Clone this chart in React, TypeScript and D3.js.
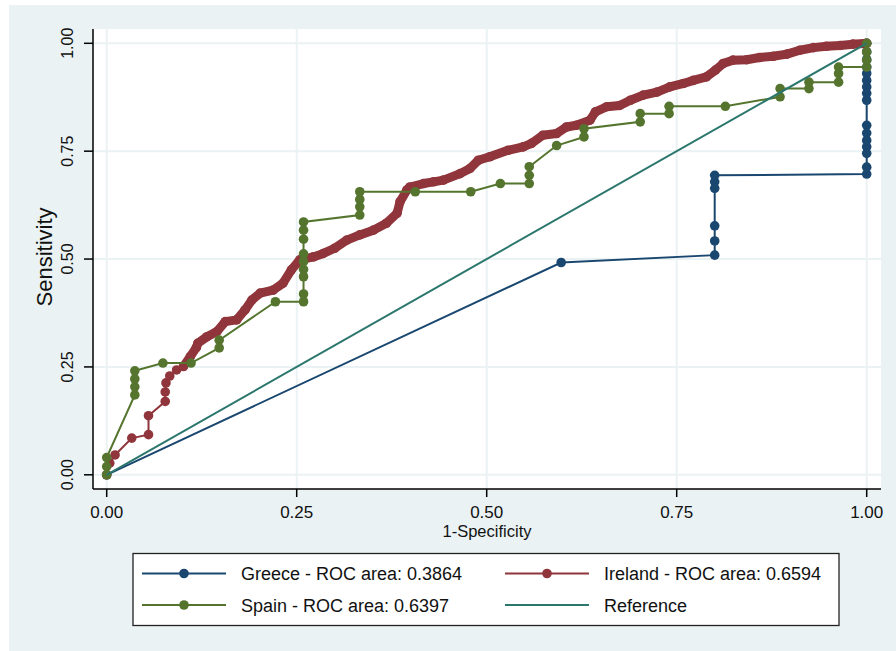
import React from 'react'
import { scaleLinear, line } from 'd3'

// ROC points: [1-specificity, sensitivity]
const greece: [number, number][] = [
  [0, 0], [0.598, 0.492], [0.8, 0.509], [0.8, 0.542], [0.8, 0.577],
  [0.8, 0.664], [0.8, 0.679], [0.8, 0.694], [1, 0.697], [1, 0.713],
  [1, 0.745], [1, 0.76], [1, 0.775], [1, 0.792], [1, 0.81], [1, 0.868],
  [1, 0.884], [1, 0.899], [1, 0.914], [1, 0.93], [1, 0.945], [1, 0.962],
  [1, 0.98], [1, 1],
]

const ireland: [number, number][] = [
  [0, 0], [0.004, 0.027], [0.011, 0.046], [0.033, 0.085], [0.055, 0.093],
  [0.055, 0.137], [0.077, 0.17], [0.077, 0.192], [0.078, 0.213], [0.083, 0.229],
  [0.092, 0.243], [0.101, 0.251], [0.11, 0.274], [0.118, 0.295], [0.12, 0.305],
  [0.132, 0.32], [0.145, 0.332], [0.156, 0.355], [0.171, 0.359], [0.182, 0.382],
  [0.191, 0.405], [0.202, 0.421], [0.219, 0.428], [0.232, 0.444], [0.243, 0.475],
  [0.254, 0.498], [0.272, 0.505], [0.285, 0.513], [0.3, 0.525], [0.316, 0.544],
  [0.333, 0.556], [0.351, 0.567], [0.368, 0.583], [0.382, 0.606], [0.386, 0.633],
  [0.395, 0.66], [0.399, 0.667], [0.417, 0.675], [0.43, 0.679], [0.443, 0.683],
  [0.465, 0.698], [0.478, 0.71], [0.489, 0.729], [0.504, 0.737], [0.528, 0.752],
  [0.548, 0.76], [0.559, 0.768], [0.574, 0.787], [0.592, 0.791], [0.605, 0.806],
  [0.618, 0.81], [0.636, 0.822], [0.643, 0.841], [0.658, 0.853], [0.675, 0.856],
  [0.689, 0.868], [0.706, 0.88], [0.724, 0.887], [0.741, 0.899], [0.759, 0.907],
  [0.772, 0.914], [0.789, 0.922], [0.801, 0.938], [0.811, 0.953], [0.824, 0.961],
  [0.842, 0.962], [0.859, 0.967], [0.877, 0.97], [0.895, 0.975], [0.912, 0.984],
  [0.93, 0.99], [0.947, 0.993], [0.965, 0.995], [0.982, 0.998], [1, 1],
]

const spain: [number, number][] = [
  [0, 0], [0, 0.019], [0, 0.04], [0.037, 0.185], [0.037, 0.204], [0.037, 0.222],
  [0.037, 0.241], [0.074, 0.259], [0.111, 0.259], [0.148, 0.294], [0.148, 0.312],
  [0.222, 0.401], [0.259, 0.401], [0.259, 0.419], [0.259, 0.459], [0.259, 0.476],
  [0.259, 0.494], [0.259, 0.512], [0.259, 0.546], [0.259, 0.567], [0.259, 0.586],
  [0.333, 0.602], [0.333, 0.621], [0.333, 0.638], [0.333, 0.656], [0.406, 0.656],
  [0.479, 0.656], [0.518, 0.675], [0.556, 0.675], [0.556, 0.694], [0.556, 0.714],
  [0.592, 0.763], [0.628, 0.783], [0.628, 0.802], [0.702, 0.818], [0.702, 0.837],
  [0.74, 0.837], [0.74, 0.854], [0.814, 0.854], [0.886, 0.876], [0.886, 0.895],
  [0.924, 0.895], [0.924, 0.91], [0.963, 0.91], [0.963, 0.93], [0.963, 0.945],
  [1, 0.945], [1, 0.961], [1, 0.98], [1, 1],
]

const reference: [number, number][] = [[0, 0], [1, 1]]

const xTicks = [0, 0.25, 0.5, 0.75, 1]
const yTicks = [0, 0.25, 0.5, 0.75, 1]
const tickLabels = ['0.00', '0.25', '0.50', '0.75', '1.00']

const legendItems = [
  { label: 'Greece - ROC area: 0.3864', color: '#1a476f', marker: true },
  { label: 'Ireland - ROC area: 0.6594', color: '#90353b', marker: true },
  { label: 'Spain - ROC area: 0.6397', color: '#55752f', marker: true },
  { label: 'Reference', color: '#2b766d', marker: false },
]

const font = '"Liberation Sans", Arial, sans-serif'

export default function App() {
  const width = 896
  const height = 651
  const plot = { left: 93, right: 881, top: 29, bottom: 489 }

  const x = scaleLinear().domain([0, 1]).range([106.7, 866.7])
  const y = scaleLinear().domain([0, 1]).range([474.8, 43.3])
  const path = line<[number, number]>().x(d => x(d[0])).y(d => y(d[1]))

  const r = 4.8
  const bg = '#eaf2f3'

  // the Ireland curve is so dense its markers merge into a band
  const irelandBand = ireland.filter(d => d[0] >= 0.1)

  const markers = (data: [number, number][], color: string) =>
    data.map((d, i) => <circle key={i} cx={x(d[0])} cy={y(d[1])} r={r} fill={color} />)

  return (
    <svg width={width} height={height} style={{ position: 'absolute', left: 0, top: 0 }} fontFamily={font}>
      <rect x={0} y={0} width={width} height={height} fill="#fff" />
      <rect x={9} y={5} width={width - 9} height={height - 5} fill={bg} />
      <rect x={plot.left} y={plot.top} width={plot.right - plot.left} height={plot.bottom - plot.top} fill="#fff" />

      {/* grid */}
      {yTicks.map(t => (
        <line key={'gy' + t} x1={plot.left} x2={plot.right} y1={y(t)} y2={y(t)} stroke={bg} strokeWidth={2} />
      ))}
      {xTicks.map(t => (
        <line key={'gx' + t} x1={x(t)} x2={x(t)} y1={plot.top} y2={plot.bottom} stroke={bg} strokeWidth={2} />
      ))}

      {/* series */}
      <path d={path(greece) || ''} fill="none" stroke="#1a476f" strokeWidth={2} />
      {markers(greece, '#1a476f')}

      <path d={path(ireland) || ''} fill="none" stroke="#90353b" strokeWidth={2} />
      <path d={path(irelandBand) || ''} fill="none" stroke="#90353b" strokeWidth={9} strokeLinejoin="round" />
      {markers(ireland, '#90353b')}

      <path d={path(spain) || ''} fill="none" stroke="#55752f" strokeWidth={2} />
      {markers(spain, '#55752f')}

      <path d={path(reference) || ''} fill="none" stroke="#2b766d" strokeWidth={2} />

      {/* axes */}
      <line x1={plot.left} x2={plot.left} y1={plot.top} y2={plot.bottom} stroke="#000" strokeWidth={1.5} />
      <line x1={plot.left} x2={plot.right} y1={plot.bottom} y2={plot.bottom} stroke="#000" strokeWidth={1.5} />
      {yTicks.map((t, i) => (
        <g key={'ty' + t}>
          <line x1={plot.left - 9} x2={plot.left} y1={y(t)} y2={y(t)} stroke="#000" strokeWidth={1.5} />
          <text transform={`translate(72.5,${y(t)}) rotate(-90)`} textAnchor="middle" fontSize={16} fill="#111">
            {tickLabels[i]}
          </text>
        </g>
      ))}
      {xTicks.map((t, i) => (
        <g key={'tx' + t}>
          <line x1={x(t)} x2={x(t)} y1={plot.bottom} y2={plot.bottom + 8} stroke="#000" strokeWidth={1.5} />
          <text x={x(t)} y={518} textAnchor="middle" fontSize={17} fill="#111">
            {tickLabels[i]}
          </text>
        </g>
      ))}
      <text transform={`translate(52,257) rotate(-90)`} textAnchor="middle" fontSize={22} fill="#111">
        Sensitivity
      </text>
      <text x={(plot.left + plot.right) / 2} y={537} textAnchor="middle" fontSize={16.5} fill="#111">
        1-Specificity
      </text>

      {/* legend */}
      <rect x={133} y={553.5} width={706} height={72} fill="#fff" stroke="#222" strokeWidth={1.3} />
      {legendItems.map((item, i) => {
        const col = i % 2
        const row = Math.floor(i / 2)
        const lx = col === 0 ? 142 : 505
        const ly = row === 0 ? 573.5 : 605
        return (
          <g key={item.label}>
            <line x1={lx} x2={lx + 84} y1={ly} y2={ly} stroke={item.color} strokeWidth={2.2} />
            {item.marker && <circle cx={lx + 42} cy={ly} r={r} fill={item.color} />}
            <text x={lx + 99} y={ly + 6.5} fontSize={18} fill="#111">
              {item.label}
            </text>
          </g>
        )
      })}
    </svg>
  )
}
